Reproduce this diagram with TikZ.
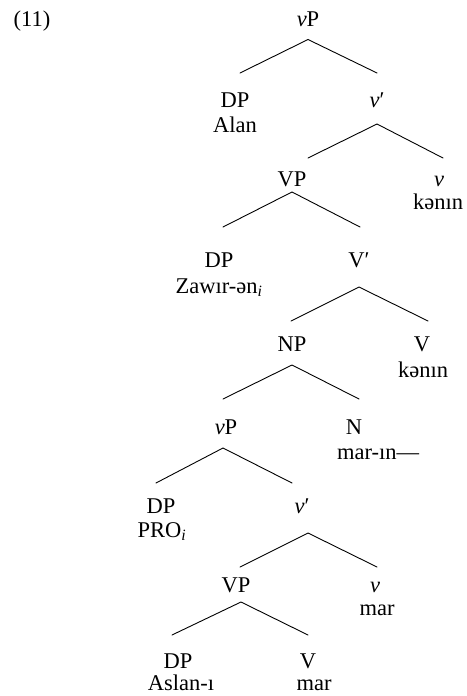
\documentclass[tikz,border=0pt]{standalone}
\usepackage{fontspec}
\setmainfont{Liberation Serif}
\begin{document}
\begin{tikzpicture}[x=1pt,y=1pt,
  lbl/.style={anchor=base,inner sep=0pt,font=\fontsize{22.5}{24}\selectfont},
  leg/.style={line width=0.9pt,line cap=round}]
\useasboundingbox (0,0) rectangle (466,-696);

% example number
\node[lbl] (num) at (32,-27) {(11)};

% category labels and words
\node[lbl] (vP1)  at (308,-27)  {\textit{v}P};
\node[lbl] (DP1)  at (235,-107) {DP};
\node[lbl] (w1)   at (235,-132) {Alan};
\node[lbl] (vb1)  at (377,-107) {\textit{v}′};
\node[lbl] (VP1)  at (292,-186) {VP};
\node[lbl] (v1)   at (439,-186) {\textit{v}};
\node[lbl] (w2)   at (438,-209) {kənın};
\node[lbl] (DP2)  at (219,-267) {DP};
\node[lbl] (w3)   at (219,-293) {Zawır-ən\textsubscript{\textit{i}}};
\node[lbl] (Vb1)  at (359,-267) {V′};
\node[lbl] (NP1)  at (292,-351) {NP};
\node[lbl] (V1)   at (422,-351) {V};
\node[lbl] (w4)   at (423,-377) {kənın};
\node[lbl] (vP2)  at (226,-434) {\textit{v}P};
\node[lbl] (N1)   at (354,-434) {N};
\node[lbl,anchor=base west] (w5) at (337,-459) {mar-ın—};
\node[lbl] (DP3)  at (161,-513) {DP};
\node[lbl] (w6)   at (162,-537) {PRO\textsubscript{\textit{i}}};
\node[lbl] (vb2)  at (302,-513) {\textit{v}′};
\node[lbl] (VP2)  at (236,-592) {VP};
\node[lbl] (v2)   at (375,-592) {\textit{v}};
\node[lbl] (w7)   at (377,-615) {mar};
\node[lbl] (DP4)  at (178,-668) {DP};
\node[lbl] (w8)   at (181,-690) {Aslan-ı};
\node[lbl] (V2)   at (308,-668) {V};
\node[lbl] (w9)   at (314,-690) {mar};

% branch apexes and leg ends
\coordinate (a1) at (308,-39.5); \coordinate (l1) at (240,-73);  \coordinate (r1) at (377,-73);
\coordinate (a2) at (377,-124);  \coordinate (l2) at (308,-158); \coordinate (r2) at (443,-158);
\coordinate (a3) at (292,-192);  \coordinate (l3) at (223,-227); \coordinate (r3) at (360,-227);
\coordinate (a4) at (359,-287);  \coordinate (l4) at (291,-321); \coordinate (r4) at (428,-321);
\coordinate (a5) at (292,-365);  \coordinate (l5) at (223,-399); \coordinate (r5) at (359,-399);
\coordinate (a6) at (223,-448);  \coordinate (l6) at (156,-483); \coordinate (r6) at (292,-483);
\coordinate (a7) at (308,-533);  \coordinate (l7) at (240,-567); \coordinate (r7) at (377,-567);
\coordinate (a8) at (241,-602);  \coordinate (l8) at (172,-635); \coordinate (r8) at (308,-635);

\foreach \i in {1,...,8}
  \draw[leg] (l\i) -- (a\i) -- (r\i);
\end{tikzpicture}
\end{document}
